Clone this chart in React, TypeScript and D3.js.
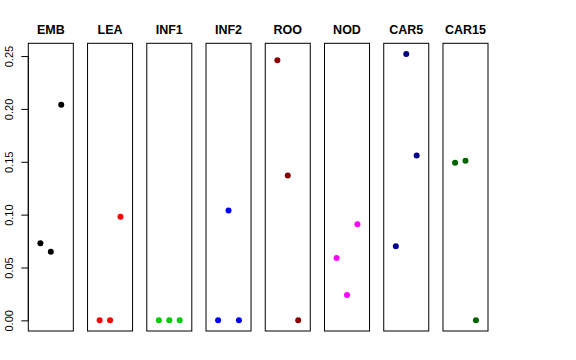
import React, { useEffect, useRef } from 'react'
import * as d3 from 'd3'

// tissues (panels) and their three values each
const tissues = ['EMB', 'LEA', 'INF1', 'INF2', 'ROO', 'NOD', 'CAR5', 'CAR15']
const colors = ['#000000', '#FF0000', '#00CD00', '#0000FF', '#8B0000', '#FF00FF', '#00008B', '#006400']
const values = [
  [0.073, 0.065, 0.204],
  [0.0, 0.0, 0.098],
  [0.0, 0.0, 0.0],
  [0.0, 0.104, 0.0],
  [0.246, 0.137, 0.0],
  [0.059, 0.024, 0.091],
  [0.070, 0.252, 0.156],
  [0.149, 0.151, 0.0],
]
const yTicks = [0, 0.05, 0.1, 0.15, 0.2, 0.25]

function drawPanels(el: SVGSVGElement) {
  const svg = d3.select(el)
  svg.selectAll('*').remove()

  const top = 43.3, bottom = 331
  const ymax = d3.max(values.flat()) as number
  const pad = ymax * 0.04
  const y = d3.scaleLinear().domain([-pad, ymax + pad]).range([bottom, top])

  const panel = d3.scaleBand().domain(tissues).range([28.3, 488]).paddingInner(0.24).paddingOuter(0)
  const w = panel.bandwidth()
  // x within each panel: positions 1..3 on [0,4] with R's 4% padding
  const x = d3.scaleLinear().domain([-0.16, 4.16]).range([0, w])

  tissues.forEach((t, i) => {
    const g = svg.append('g').attr('transform', `translate(${panel(t)},0)`)
    g.append('rect')
      .attr('x', 0).attr('y', top)
      .attr('width', w).attr('height', bottom - top)
      .attr('fill', 'none').attr('stroke', '#000').attr('stroke-width', 1)
    g.append('text')
      .attr('x', w / 2).attr('y', 34)
      .attr('text-anchor', 'middle')
      .attr('font-family', 'Liberation Sans, Arial, sans-serif')
      .attr('font-weight', 'bold')
      .attr('font-size', 12.5)
      .text(t)
    g.selectAll('circle').data(values[i]).join('circle')
      .attr('cx', (d, j) => x(j + 1))
      .attr('cy', d => y(d))
      .attr('r', 3)
      .attr('fill', colors[i])
  })

  const axis = svg.append('g').attr('transform', `translate(${panel(tissues[0])},0)`)
  axis.call(d3.axisLeft(y).tickValues(yTicks).tickSize(7).tickFormat(d3.format('.2f')))
  axis.select('.domain').attr('d', `M0,${y(0)}V${y(0.25)}`).attr('stroke', '#000')
  axis.selectAll('.tick line').attr('stroke', '#000')
  axis.selectAll('.tick text')
    .attr('font-family', 'Liberation Sans, Arial, sans-serif')
    .attr('font-size', 11)
    .attr('fill', '#000')
    .attr('x', null).attr('dy', null)
    .attr('text-anchor', 'middle')
    .attr('transform', 'translate(-15,0) rotate(-90)')
}

const App = () => {
  const ref = useRef<SVGSVGElement>(null)
  useEffect(() => {
    if (ref.current) drawPanels(ref.current)
  })
  return (
    <svg ref={ref} width={576} height={360}
      style={{ position: 'absolute', left: 0, top: 0, background: '#fff' }} />
  )
}

export default App
